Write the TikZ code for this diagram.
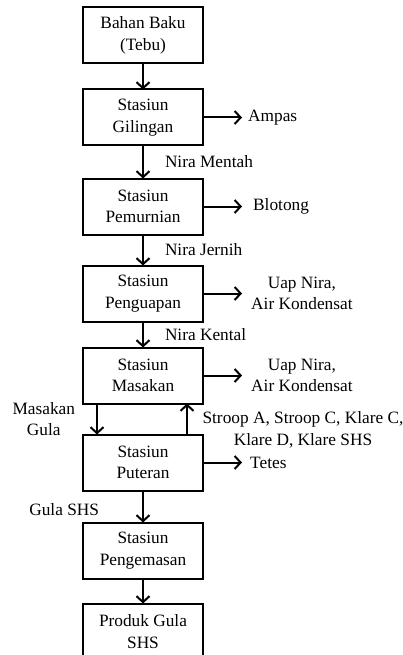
\documentclass[tikz,border=0pt]{standalone}
\usepackage{fontspec}
\setmainfont{Liberation Serif}
\usetikzlibrary{arrows.meta, positioning}

\begin{document}
\begin{tikzpicture}[x=1pt, y=1pt, node distance=30pt and 44pt,
		font=\fontsize{17.3}{21.5}\selectfont,
		stasiun/.style={draw, line width=2pt, minimum width=120pt, minimum height=56pt, align=center, inner sep=2pt, outer sep=0pt},
		keluar/.style={align=center, inner sep=1pt},
		panah/.style={line width=2pt, -{Straight Barb[length=6pt, width=13pt]}}]
		\useasboundingbox (0,0) rectangle (403,-655);
		% alur utama
		\node[stasiun] (bahan) at (143,-35.5) {Bahan Baku\\(Tebu)};
		\node[stasiun, below=26pt of bahan] (gilingan) {Stasiun\\Gilingan};
		\node[stasiun, below=33pt of gilingan] (pemurnian) {Stasiun\\Pemurnian};
		\node[stasiun, below=31pt of pemurnian] (penguapan) {Stasiun\\Penguapan};
		\node[stasiun, below=26pt of penguapan] (masakan) {Stasiun\\Masakan};
		\node[stasiun, below=31pt of masakan] (puteran) {Stasiun\\Puteran};
		\node[stasiun, below=32pt of puteran] (pengemasan) {Stasiun\\Pengemasan};
		\node[stasiun, below=25pt of pengemasan] (produk) {Produk Gula\\SHS};
		% hasil samping
		\node[keluar, right=44pt of gilingan] (ampas) {Ampas};
		\node[keluar, right=49pt of pemurnian] (blotong) {Blotong};
		\node[keluar, right=47pt of penguapan] (uap1) {Uap Nira,\\Air Kondensat};
		\node[keluar, right=47pt of masakan] (uap2) {Uap Nira,\\Air Kondensat};
		\node[keluar, right=46pt of puteran] (tetes) {Tetes};
		\node[keluar] (stroop) at (303,-430) {Stroop A, Stroop C, Klare C,\\Klare D, Klare SHS};
		\foreach \from/\to/\gap in {gilingan/ampas/5pt, pemurnian/blotong/10pt, penguapan/uap1/8pt, masakan/uap2/8pt, puteran/tetes/7pt}
			\draw[panah, shorten >=\gap] (\from) -- (\to);
		% aliran antar stasiun
		\foreach \from/\to in {bahan/gilingan, pengemasan/produk}
			\draw[panah] (\from) -- (\to);
		\foreach \from/\to/\isi in {gilingan/pemurnian/Nira Mentah, pemurnian/penguapan/Nira Jernih, penguapan/masakan/Nira Kental}
			\draw[panah] (\from) -- node[keluar, right=20pt] {\isi} (\to);
		\draw[panah] (puteran) -- node[keluar, left=42pt, yshift=-3pt] (gulashs) {Gula SHS} (pengemasan);
		\draw[panah] ([xshift=-46pt]masakan.south) -- node[keluar, left=20pt] (masgula) {Masakan\\Gula} ([xshift=-46pt]puteran.north);
		\draw[panah] ([xshift=44pt]puteran.north) -- ([xshift=44pt]masakan.south);
	\end{tikzpicture}
\end{document}
